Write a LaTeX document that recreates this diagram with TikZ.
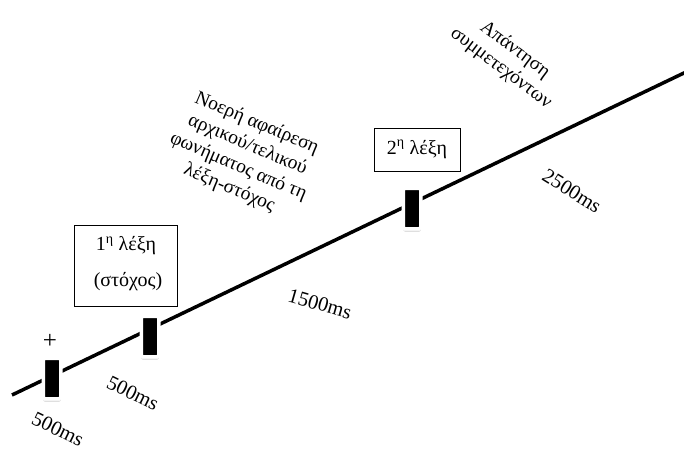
\documentclass[tikz,border=0pt]{standalone}
\usepackage{fontspec}
\setmainfont{Liberation Serif}
\usetikzlibrary{shadows}
\begin{document}
\begin{tikzpicture}[x=1pt,y=-1pt,
  txt/.style={font=\fontsize{20.5}{23}\selectfont, inner sep=0pt},
  marker/.style={fill=black, draw=white, line width=3.5pt, rounded corners=1.5pt,
    minimum width=17.5pt, minimum height=40.5pt, inner sep=0pt,
    drop shadow={shadow xshift=0pt, shadow yshift=-3pt, opacity=0.25, fill=gray}},
  wordbox/.style={draw=black, line width=0.6pt, fill=white, inner sep=0pt, align=center,
    font=\fontsize{20}{22}\selectfont}]
\useasboundingbox (0,0) rectangle (684,452);
\coordinate (s) at (12,395);
\coordinate (e) at (686,72);
\draw[line width=3.5pt] (s) -- (e);
\node[marker] (m1) at (52,378.5) {};
\node[marker] (m2) at (150,336.5) {};
\node[marker] (m3) at (412,208.5) {};
\node[font=\fontsize{25}{25}\selectfont, inner sep=0pt] (plus) at (50,341) {+};
\node[wordbox, minimum width=103pt, minimum height=81pt] (b1) at (125.5,265.5) {};
\node[wordbox, draw=none, fill=none] (b1a) at (126,246) {1\textsuperscript{η} λέξη};
\node[wordbox, draw=none, fill=none] (b1b) at (128,282) {(στόχος)};
\node[wordbox, minimum width=86pt, minimum height=43pt] (b2) at (417,149.5) {2\textsuperscript{η} λέξη};
\node[txt, rotate=-26] (t1) at (58,429) {500ms};
\node[txt, rotate=-26] (t2) at (133,393) {500ms};
\node[txt, rotate=-16] (t3) at (320,304) {1500ms};
\node[txt, rotate=-32] (t4) at (572,191) {2500ms};
\node[txt, rotate=-23, align=center, font=\fontsize{19.5}{23.5}\selectfont] (g1) at (243,156)
  {Νοερή αφαίρεση\\αρχικού/τελικού\\φωνήματος από τη\\λέξη-στόχος};
\node[txt, rotate=-37, align=center, font=\fontsize{19.5}{23}\selectfont] (g2) at (508,59)
  {Απάντηση\\συμμετεχόντων};
\end{tikzpicture}
\end{document}
